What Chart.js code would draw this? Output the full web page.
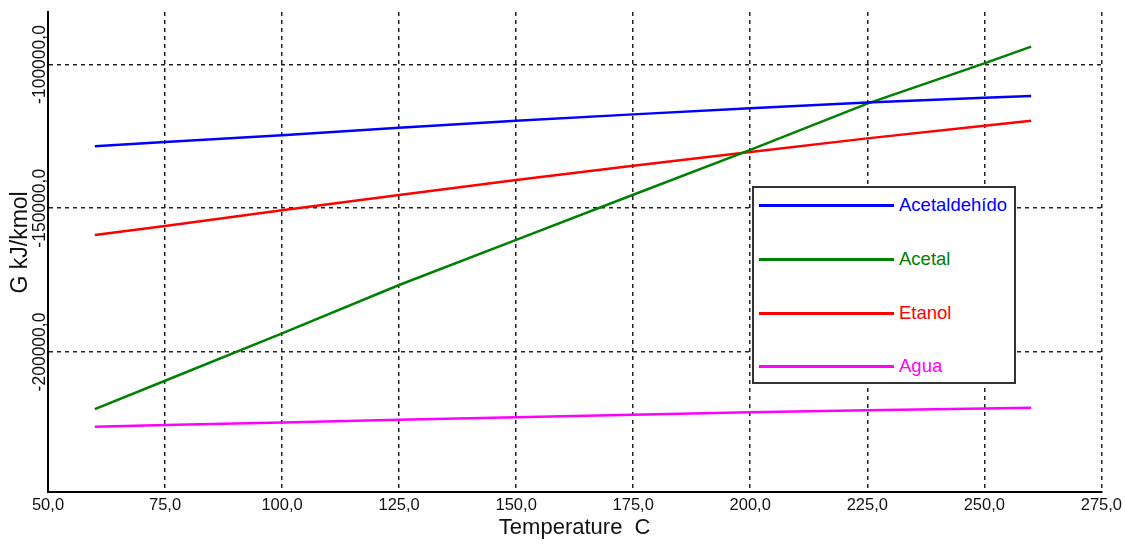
<!DOCTYPE html>
<html>
<head>
<meta charset="utf-8">
<script src="https://cdn.jsdelivr.net/npm/chart.js@4.4.1/dist/chart.umd.min.js"></script>
<style>
html,body{margin:0;padding:0;background:#fff;}
#wrap{position:relative;width:1126px;height:546px;overflow:hidden;}
canvas{display:block;}
#legend{position:absolute;left:752px;top:186px;width:260px;height:194px;border:2px solid #333;background:#fff;font-family:"Liberation Sans",Arial,sans-serif;font-size:18.5px;}
.row{position:absolute;left:0;height:0;width:100%;}
.row .ln{position:absolute;left:5px;width:135px;height:3px;top:-1.5px;}
.row .tx{position:absolute;left:145px;top:-11px;white-space:nowrap;line-height:22px;}
</style>
</head>
<body>
<div id="wrap">
<canvas id="c" width="1126" height="546"></canvas>
<div id="legend"></div>
</div>
<script>
// ---- data ----
const temps = [60, 75, 100, 125, 150, 175, 200, 225, 250, 260];
const acetaldehido = [-128400, -126950, -124600, -122000, -119600, -117350, -115250, -113250, -111600, -110950];
const acetal       = [-219850, -210000, -193500, -176700, -161000, -145300, -129700, -113600, -99600, -93800];
const etanol       = [-159300, -156200, -150700, -145400, -140200, -135200, -130400, -125700, -121300, -119550];
const agua         = [-226000, -225400, -224500, -223600, -222700, -221800, -221000, -220300, -219650, -219400];
const seriesNames = ['Acetaldehído', 'Acetal', 'Etanol', 'Agua'];
const xTicks = [50, 75, 100, 125, 150, 175, 200, 225, 250, 275];
const yTicks = [-200000, -150000, -100000];
const xTitle = 'Temperature  C';
const yTitle = '   G kJ/kmol';

// ---- styles ----
const seriesColors = ['#0000ff', '#008000', '#ff0000', '#ff00ff'];
const FONT = '"Liberation Sans", Arial, sans-serif';
const fmt = v => Number(v).toFixed(1).replace('.', ',');

const seriesValues = [acetaldehido, acetal, etanol, agua];
const datasets = seriesValues.map((vals, i) => ({
  label: seriesNames[i],
  data: temps.map((t, j) => ({x: t, y: vals[j]})),
  borderColor: seriesColors[i],
  backgroundColor: seriesColors[i],
  borderWidth: 2.5,
  pointRadius: 0,
  tension: 0,
  fill: false
}));

const chart = new Chart(document.getElementById('c'), {
  type: 'line',
  data: {datasets},
  options: {
    responsive: false,
    animation: false,
    devicePixelRatio: 1,
    layout: {padding: {top: 12, right: 21, left: 0, bottom: 0}},
    plugins: {legend: {display: false}, tooltip: {enabled: false}},
    scales: {
      x: {
        type: 'linear', min: 50, max: 275,
        afterBuildTicks: s => { s.ticks = xTicks.map(v => ({value: v})); },
        afterFit: s => { s.height = 54; },
        grid: {color: '#222', lineWidth: 1.5, drawTicks: false},
        border: {display: true, color: '#000', width: 2, dash: [4, 4]},
        ticks: {color: '#111', font: {family: FONT, size: 16.5}, padding: 4, maxRotation: 0, autoSkip: false, callback: v => fmt(v)},
        title: {display: true, text: xTitle, color: '#111', font: {family: FONT, size: 22}, padding: {top: 0, bottom: 5}}
      },
      y: {
        type: 'linear', min: -248700, max: -81740,
        afterBuildTicks: s => { s.ticks = yTicks.map(v => ({value: v})); },
        afterFit: s => { s.width = 48; },
        grid: {color: '#222', lineWidth: 1.5, drawTicks: false},
        border: {display: true, color: '#000', width: 2, dash: [4, 4]},
        ticks: {color: '#111', font: {family: FONT, size: 17.5}, minRotation: 90, maxRotation: 90, crossAlign: 'center', padding: -32, autoSkip: false, callback: v => fmt(v)},
        title: {display: true, text: yTitle, color: '#111', font: {family: FONT, size: 23}, padding: {top: 7, bottom: 0}}
      }
    }
  }
});

// HTML legend built from the dataset names/colours
const leg = document.getElementById('legend');
const rowTops = [17, 71, 125, 178];
seriesNames.forEach((name, i) => {
  const r = document.createElement('div');
  r.className = 'row';
  r.style.top = rowTops[i] + 'px';
  const ln = document.createElement('div');
  ln.className = 'ln';
  ln.style.background = seriesColors[i];
  const tx = document.createElement('div');
  tx.className = 'tx';
  tx.style.color = seriesColors[i];
  tx.textContent = name;
  r.appendChild(ln); r.appendChild(tx);
  leg.appendChild(r);
});
</script>
</body>
</html>
